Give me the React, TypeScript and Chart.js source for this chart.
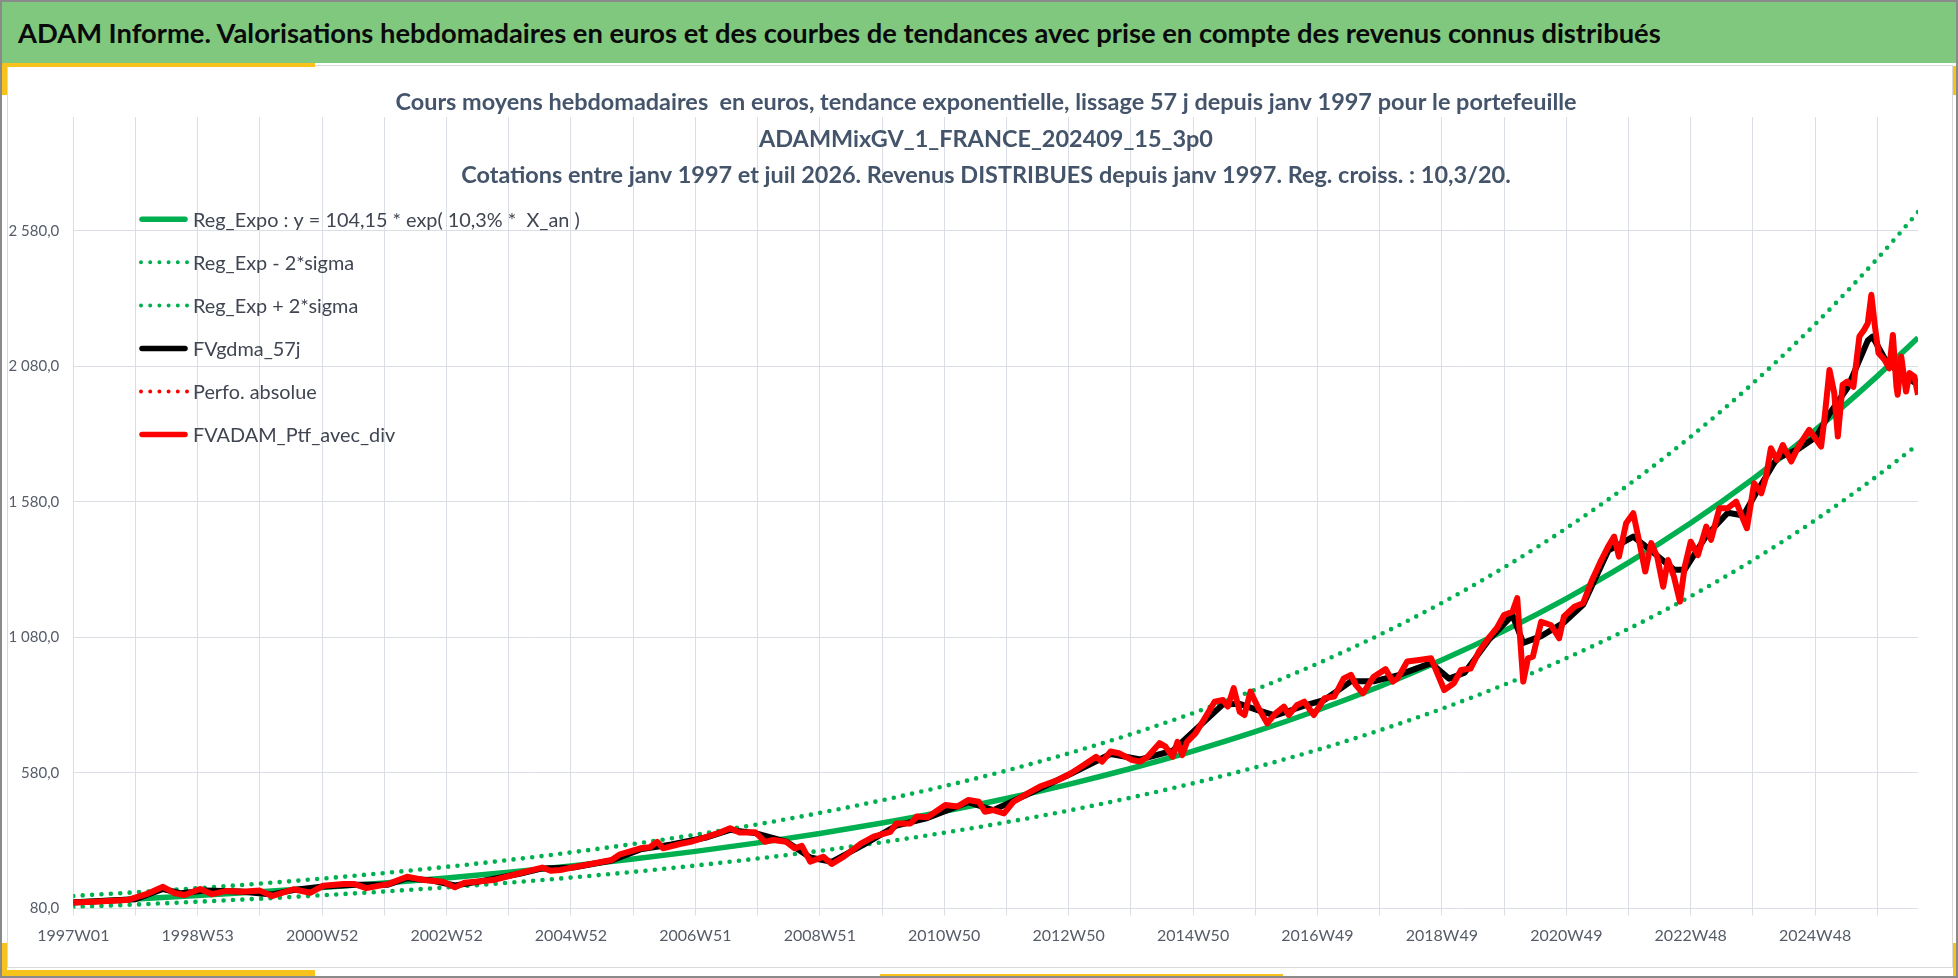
import React, { useEffect, useMemo, useRef } from 'react';
import { Chart, registerables } from 'chart.js';

Chart.register(...registerables);

// ---------- texts ----------
const headerTitle =
  'ADAM Informe. Valorisations hebdomadaires en euros et des courbes de tendances avec prise en compte des revenus connus distribués';
const subtitleLines = [
  'Cours moyens hebdomadaires  en euros, tendance exponentielle, lissage 57 j depuis janv 1997 pour le portefeuille',
  'ADAMMixGV_1_FRANCE_202409_15_3p0',
  'Cotations entre janv 1997 et juil 2026. Revenus DISTRIBUES depuis janv 1997. Reg. croiss. : 10,3/20.',
];
const seriesLabels = [
  'Reg_Expo : y = 104,15 * exp( 10,3% *  X_an )',
  'Reg_Exp - 2*sigma',
  'Reg_Exp + 2*sigma',
  'FVgdma_57j',
  'Perfo. absolue',
  'FVADAM_Ptf_avec_div',
];

// ---------- axes ----------
const xTickLabels = [
  '1997W01', '1998W53', '2000W52', '2002W52', '2004W52', '2006W51', '2008W51', '2010W50',
  '2012W50', '2014W50', '2016W49', '2018W49', '2020W49', '2022W48', '2024W48',
];
const gridWeeks = [
  0, 52, 104, 156, 208, 260, 312, 364, 416, 468, 520, 572, 624, 676, 728, 780, 832, 884, 936,
  988, 1040, 1092, 1144, 1196, 1248, 1300, 1352, 1404, 1456, 1508,
];
const lastWeek = 1542;
const yTicks = [80, 580, 1080, 1580, 2080, 2580];
const yMin = 80;
const yMax = 3000;

// ---------- trend curves (week index -> euros) ----------
const trendWeeks = [
  0, 52, 104, 156, 208, 260, 312, 364, 416, 468, 520, 572, 624, 676, 728, 780, 832, 884, 936,
  988, 1040, 1092, 1144, 1196, 1248, 1300, 1352, 1404, 1456, 1508, 1542,
];
const regExpo = [
  104.2, 115.4, 127.9, 141.7, 157.0, 174.0, 192.8, 213.7, 236.8, 262.4, 290.7, 322.1, 357.0,
  395.6, 438.3, 485.7, 538.2, 596.4, 660.9, 732.3, 811.5, 899.2, 996.4, 1104.1, 1223.5, 1355.7,
  1502.3, 1664.7, 1844.6, 2044.0, 2185.9,
];
const regLow = [
  85.4, 94.6, 104.9, 116.2, 128.8, 142.7, 158.1, 175.2, 194.1, 215.1, 238.4, 264.2, 292.7, 324.4,
  359.4, 398.3, 441.3, 489.0, 541.9, 600.5, 665.4, 737.3, 817.0, 905.4, 1003.3, 1111.7, 1231.9,
  1365.1, 1512.6, 1676.1, 1792.4,
];
const regHigh = [
  126.2, 139.9, 155.0, 171.8, 190.3, 210.9, 233.7, 259.0, 287.0, 318.0, 352.3, 390.4, 432.6,
  479.4, 531.2, 588.7, 652.3, 722.8, 800.9, 887.5, 983.5, 1089.8, 1207.6, 1338.2, 1482.9, 1643.1,
  1820.8, 2017.6, 2235.7, 2477.3, 2649.3,
];

// ---------- portfolio (week index -> euros) ----------
const ptfWeeks = [
  0, 17, 45, 61, 75, 85, 93, 106, 116, 128, 141, 156, 166, 184, 198, 209, 226, 235, 245, 263,
  279, 293, 309, 319, 327, 351, 373, 392, 399, 407, 418, 438, 450, 457, 474, 482, 488, 493, 507,
  516, 530, 541, 549, 557, 570, 574, 578, 585, 596, 603, 609, 616, 627, 634, 644, 658, 669, 683,
  688, 700, 705, 714, 729, 739, 748, 757, 762, 769, 778, 786, 797, 808, 823, 834, 845, 855, 860,
  867, 874, 885, 892, 898, 908, 913, 919, 923, 927, 931, 938, 945, 954, 961, 965, 970, 975, 979,
  984, 990, 998, 1005, 1012, 1016, 1023, 1029, 1037, 1046, 1054, 1062, 1068, 1072, 1078, 1087,
  1097, 1103, 1107, 1115, 1125, 1135, 1139, 1146, 1154, 1160, 1168, 1175, 1184, 1190, 1196, 1203,
  1207, 1212, 1216, 1220, 1227, 1235, 1242, 1246, 1255, 1262, 1269, 1276, 1283, 1288, 1292, 1298,
  1304, 1309, 1314, 1319, 1324, 1329, 1333, 1338, 1343, 1347, 1352, 1358, 1365, 1369, 1376, 1383,
  1390, 1396, 1399, 1405, 1411, 1415, 1419, 1424, 1429, 1436, 1442, 1451, 1457, 1461, 1464, 1468,
  1472, 1475, 1479, 1483, 1488, 1493, 1497, 1500, 1503, 1506, 1509, 1514, 1518, 1521, 1524, 1525,
  1528, 1532, 1535, 1539, 1542,
];
const ptfValues = [
  102, 105, 111, 133, 160, 136, 130, 152, 133, 145, 142, 146, 126, 151, 138, 164, 170, 170, 155,
  170, 197, 185, 179, 158, 175, 185, 210, 231, 219, 222, 232, 249, 259, 280, 302, 306, 326, 302,
  318, 326, 345, 361, 376, 360, 361, 345, 326, 333, 326, 302, 311, 253, 271, 244, 271, 318, 345,
  363, 394, 394, 419, 417, 462, 456, 480, 474, 437, 443, 431, 474, 503, 530, 554, 579, 610, 640,
  622, 659, 653, 628, 622, 640, 690, 677, 640, 695, 646, 695, 726, 776, 843, 849, 825, 893, 806,
  794, 880, 825, 763, 800, 825, 794, 831, 843, 794, 856, 862, 929, 942, 905, 874, 935, 963, 917,
  929, 991, 997, 1003, 960, 886, 911, 960, 965, 1028, 1083, 1115, 1163, 1175, 1225, 917, 1003,
  1009, 1138, 1126, 1077, 1157, 1194, 1206, 1286, 1354, 1415, 1452, 1378, 1501, 1538, 1433, 1323,
  1428, 1378, 1267, 1366, 1304, 1212, 1341, 1433, 1384, 1489, 1440, 1557, 1557, 1581, 1514, 1483,
  1649, 1612, 1673, 1778, 1735, 1790, 1729, 1784, 1846, 1809, 1784, 1895, 2067, 1981, 1821, 2012,
  2024, 2005, 2190, 2215, 2239, 2344, 2227, 2129, 2104, 2073, 2196, 2005, 1975, 2116, 1987, 2055,
  2042, 1975,
];

// ---------- 57-day smoothed curve (week index -> euros) ----------
const gdmaWeeks = [
  0, 52, 75, 90, 110, 140, 166, 184, 209, 235, 263, 279, 300, 319, 340, 373, 392, 418, 450, 474,
  500, 530, 549, 570, 596, 616, 634, 660, 688, 714, 748, 769, 797, 834, 867, 892, 919, 945, 961,
  975, 990, 1005, 1029, 1046, 1068, 1087, 1107, 1135, 1150, 1163, 1184, 1203, 1212, 1227, 1246,
  1262, 1283, 1304, 1319, 1338, 1347, 1365, 1383, 1396, 1405, 1424, 1442, 1457, 1468, 1483, 1500,
  1504, 1514, 1525, 1542,
];
const gdmaValues = [
  102, 114, 152, 136, 146, 143, 132, 148, 161, 168, 168, 192, 183, 165, 180, 208, 228, 231, 257,
  298, 316, 343, 370, 358, 327, 268, 252, 314, 386, 414, 472, 443, 500, 577, 650, 630, 662, 768,
  833, 835, 812, 792, 828, 850, 918, 918, 940, 985, 928, 950, 1075, 1162, 1060, 1085, 1135, 1200,
  1400, 1452, 1400, 1330, 1330, 1455, 1540, 1530, 1600, 1740, 1775, 1820, 1905, 2000, 2175, 2190,
  2110, 2060, 2012,
];

// ---------- style constants ----------
const GREEN = '#00b050';
const RED = '#ff0000';
const BLACK = '#000000';
const GRID = '#dadee5';
const TICK_COLOR = '#555c68';
const FONT = 'Lato, "Open Sans", sans-serif';
const CANVAS_W = 1944;
const CANVAS_H = 900;
const DOT_W = 4.6;
const DOT_GAP = 9.4;

const pts = (xs: number[], ys: number[]) => xs.map((x, i) => ({ x, y: ys[i] }));

const fmtFr = (v: number) => {
  const [i, d] = v.toFixed(1).split('.');
  return i.replace(/\B(?=(\d{3})+(?!\d))/g, ' ') + ',' + d;
};

const fitSize = (ctx: CanvasRenderingContext2D, text: string, weight: string, target: number, base: number) => {
  ctx.font = `${weight} ${base}px ${FONT}`;
  const w = ctx.measureText(text).width;
  return (base * target) / w;
};

const subtitlePlugin = {
  id: 'subtitleLines',
  afterDraw(chart: any) {
    const ctx: CanvasRenderingContext2D = chart.ctx;
    ctx.save();
    const size = fitSize(ctx, subtitleLines[0], 'bold', 1182, 23);
    ctx.font = `bold ${size}px ${FONT}`;
    ctx.fillStyle = '#44546a';
    ctx.textAlign = 'center';
    ctx.textBaseline = 'alphabetic';
    subtitleLines.forEach((t, i) => ctx.fillText(t, 978, 43 + i * 36.5));
    ctx.restore();
  },
};

const legendPlugin = {
  id: 'excelLegend',
  afterDraw(chart: any) {
    const ctx: CanvasRenderingContext2D = chart.ctx;
    ctx.save();
    const size = fitSize(ctx, seriesLabels[0], 'normal', 387, 23);
    chart.data.datasets.forEach((ds: any, i: number) => {
      const y = 152.3 + i * 43.05;
      ctx.beginPath();
      ctx.strokeStyle = ds.borderColor;
      ctx.lineCap = 'round';
      if (ds.borderDash && ds.borderDash.length) {
        ctx.lineWidth = 4;
        ctx.setLineDash([0, 9.2]);
        ctx.moveTo(133, y);
        ctx.lineTo(180, y);
      } else {
        ctx.lineWidth = 5.5;
        ctx.setLineDash([]);
        ctx.moveTo(134, y);
        ctx.lineTo(177, y);
      }
      ctx.stroke();
      ctx.setLineDash([]);
      ctx.font = `normal ${size}px ${FONT}`;
      ctx.fillStyle = '#404552';
      ctx.textAlign = 'left';
      ctx.textBaseline = 'middle';
      ctx.fillText(ds.label, 185, y + 1.5);
    });
    ctx.restore();
  },
};

function ChartCanvas() {
  const ref = useRef<HTMLCanvasElement | null>(null);
  useEffect(() => {
    if (!ref.current) return;
    const dotted = { borderDash: [0, DOT_GAP], borderCapStyle: 'round' as const, borderWidth: DOT_W };
    const chart = new Chart(ref.current, {
      type: 'line',
      data: {
        datasets: [
          { label: seriesLabels[0], data: pts(trendWeeks, regExpo), borderColor: GREEN, borderWidth: 5.5, cubicInterpolationMode: 'monotone', order: 3 },
          { label: seriesLabels[1], data: pts(trendWeeks, regLow), borderColor: GREEN, ...dotted, cubicInterpolationMode: 'monotone', order: 4 },
          { label: seriesLabels[2], data: pts(trendWeeks, regHigh), borderColor: GREEN, ...dotted, cubicInterpolationMode: 'monotone', order: 5 },
          { label: seriesLabels[3], data: pts(gdmaWeeks, gdmaValues), borderColor: BLACK, borderWidth: 6, borderJoinStyle: 'round', order: 2 },
          { label: seriesLabels[4], data: pts(ptfWeeks, ptfValues), borderColor: RED, borderDash: [0, 9.2], borderCapStyle: 'round', borderWidth: 3, order: 1 },
          { label: seriesLabels[5], data: pts(ptfWeeks, ptfValues), borderColor: RED, borderWidth: 6, borderJoinStyle: 'round', order: 0 },
        ] as any,
      },
      options: {
        responsive: false,
        maintainAspectRatio: false,
        animation: false,
        devicePixelRatio: 1,
        elements: { point: { radius: 0, hoverRadius: 0 }, line: { tension: 0 } },
        layout: { padding: { left: 0, right: 34, top: 50, bottom: 0 } },
        plugins: {
          legend: { display: false },
          title: { display: false },
          tooltip: { enabled: false },
        },
        scales: {
          x: {
            type: 'linear',
            min: 0,
            max: lastWeek,
            afterBuildTicks: (s: any) => {
              s.ticks = gridWeeks.map((v) => ({ value: v }));
            },
            afterFit: (s: any) => {
              s.height = 58.5;
            },
            grid: { color: GRID, lineWidth: 1, drawTicks: true, tickLength: 7 },
            border: { display: false },
            ticks: {
              autoSkip: false,
              maxRotation: 0,
              minRotation: 0,
              padding: 11,
              color: TICK_COLOR,
              font: { family: FONT, size: 16 },
              callback: (v: any) => {
                const n = Math.round(Number(v));
                return n % 104 === 0 ? xTickLabels[n / 104] ?? '' : '';
              },
            },
          },
          y: {
            type: 'linear',
            min: yMin,
            max: yMax,
            afterBuildTicks: (s: any) => {
              s.ticks = yTicks.map((v) => ({ value: v }));
            },
            afterFit: (s: any) => {
              s.width = 65.3;
            },
            grid: { color: GRID, lineWidth: 1, drawTicks: false },
            border: { display: false },
            ticks: {
              padding: 14,
              color: TICK_COLOR,
              font: { family: FONT, size: 15 },
              callback: (v: any) => fmtFr(Number(v)),
            },
          },
        },
      },
      plugins: [subtitlePlugin, legendPlugin],
    });
    return () => chart.destroy();
  }, []);
  return (
    <canvas
      ref={ref}
      width={CANVAS_W}
      height={CANVAS_H}
      style={{ position: 'absolute', left: 6, top: 65, width: CANVAS_W, height: CANVAS_H }}
    />
  );
}

const YELLOW = '#f7c21b';

export default function App() {
  useEffect(() => {
    document.body.style.margin = '0';
    document.body.style.overflow = 'hidden';
  }, []);
  const headerSize = useMemo(() => {
    const c = document.createElement('canvas').getContext('2d');
    if (!c) return 28;
    return fitSize(c, headerTitle, 'bold', 1645, 30);
  }, []);
  const bar = (s: React.CSSProperties) => <div style={{ position: 'absolute', background: YELLOW, ...s }} />;
  return (
    <div
      style={{
        position: 'relative',
        width: 1958,
        height: 978,
        boxSizing: 'border-box',
        border: '2px solid #8a8a8a',
        background: '#ffffff',
        overflow: 'hidden',
      }}
    >
      <div
        style={{
          position: 'absolute',
          left: 0,
          top: 0,
          width: 1954,
          height: 61,
          background: '#7fc87e',
          display: 'flex',
          alignItems: 'center',
          paddingLeft: 16,
          boxSizing: 'border-box',
          fontFamily: FONT,
          fontWeight: 700,
          fontSize: headerSize,
          color: '#0a0a0a',
          whiteSpace: 'nowrap',
        }}
      >
        {headerTitle}
      </div>
      <div
        style={{
          position: 'absolute',
          left: 5,
          top: 63,
          width: 1946,
          height: 903,
          boxSizing: 'border-box',
          border: '1px solid #d9d9d9',
        }}
      />
      {bar({ left: 0, top: 61, width: 313, height: 4 })}
      {bar({ left: 0, top: 61, width: 5, height: 32 })}
      {bar({ left: 0, top: 968, width: 313, height: 6 })}
      {bar({ left: 0, top: 941, width: 5, height: 33 })}
      {bar({ left: 1951, top: 64, width: 3, height: 29 })}
      {bar({ left: 1951, top: 941, width: 3, height: 33 })}
      {bar({ left: 878, top: 972, width: 403, height: 2 })}
      <ChartCanvas />
    </div>
  );
}
